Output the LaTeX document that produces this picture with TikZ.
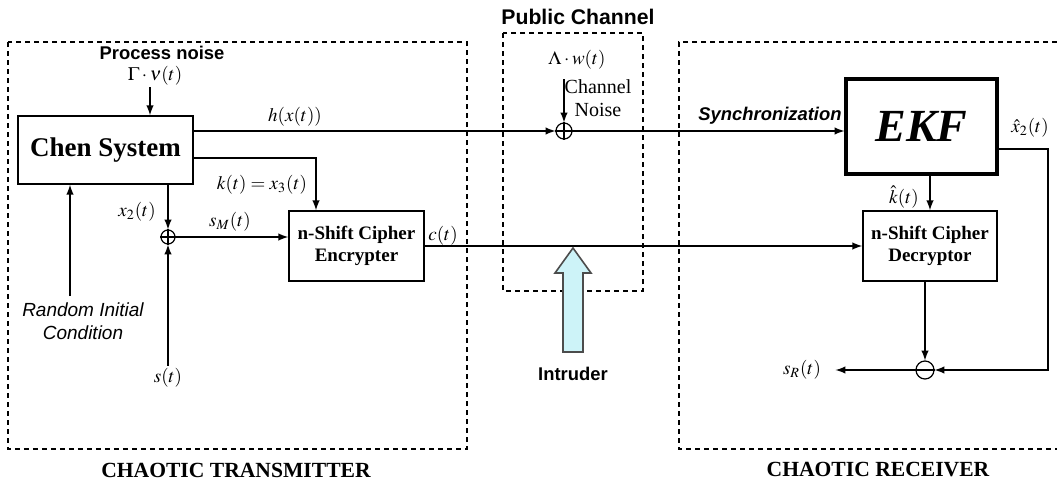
\documentclass[tikz,border=0pt]{standalone}
\usepackage{mathptmx}
\usepackage{fontspec}
\setmainfont{Liberation Serif}
\setsansfont{Liberation Sans}
\usepackage{tikz}
\usetikzlibrary{arrows}

\definecolor{intrfill}{RGB}{205,243,248}
\tikzset{
  blk/.style={draw, line width=0.8pt, inner sep=0pt, align=center,
    font=\fontsize{9.5}{11}\selectfont\bfseries},
  sumnode/.style={draw, circle, line width=0.6pt, minimum size=7pt, inner sep=0pt},
  lbl/.style={font=\fontsize{9.5}{11}\selectfont, inner sep=1pt},
  sflbl/.style={font=\fontsize{9.2}{10.5}\selectfont\sffamily\bfseries},
  zone/.style={dash pattern=on 2.5pt off 2pt, line width=0.8pt},
  ttl/.style={font=\fontsize{10.8}{12}\selectfont\bfseries}
}

\begin{document}
\begin{tikzpicture}[x=0.5pt,y=-0.5pt,>=latex,line width=0.7pt]
  \useasboundingbox (0,0) rectangle (1057,488);
  % dashed zones
  \draw[zone] (8,42) rectangle (467,449);
  \draw[zone] (503,33) rectangle (643,291);
  \draw[zone] (1057,42) -- (679,42) -- (679,449) -- (1057,449);
  \node[ttl] (txtitle) at (236,470) {CHAOTIC TRANSMITTER};
  \node[ttl] (rxtitle) at (878,470) {CHAOTIC RECEIVER};
  \node[sflbl,font=\fontsize{10.6}{12}\selectfont\sffamily\bfseries] (pubtitle) at (578,17) {Public Channel};

  % blocks
  \node[blk,minimum width=87.5pt,minimum height=34pt,font=\fontsize{13.5}{15}\selectfont\bfseries] (chen) at (105.5,150) {Chen System};
  \node[blk,minimum width=67.5pt,minimum height=35pt] (enc) at (356.5,246) {n-Shift Cipher\\Encrypter};
  \node[blk,line width=1.6pt,minimum width=75.5pt,minimum height=47.5pt,font=\fontsize{23}{26}\selectfont\bfseries\itshape] (ekf) at (921.5,126.5) {EKF};
  \node[blk,minimum width=67pt,minimum height=35pt] (dec) at (930,246) {n-Shift Cipher\\Decryptor};

  % summing points
  \node[sumnode] (sumtx) at (168,237) {};
  \draw[line width=0.6pt] (sumtx.north) -- (sumtx.south) (sumtx.west) -- (sumtx.east);
  \node[sumnode,minimum size=8pt] (sumch) at (564,131) {};
  \draw[line width=0.6pt] (sumch.north) -- (sumch.south) (sumch.west) -- (sumch.east);
  \node[sumnode,minimum size=9pt] (subrx) at (925,370) {};
  \draw[line width=0.6pt] (subrx.west) -- (subrx.east);

  % labels
  \node[sflbl] (pnoise) at (162,53) {Process noise};
  \node[lbl] (gam) at (155,76) {$\Gamma\cdot\nu(t)$};
  \node[lbl] (hx) at (295,117) {$h(x(t))$};
  \node[lbl] (kx) at (262,185) {$k(t)=x_3(t)$};
  \node[lbl] (xtwo) at (137,212) {$x_2(t)$};
  \node[lbl] (sm) at (230,222) {$s_M(t)$};
  \node[lbl] (st) at (168,378) {$s(t)$};
  \node[font=\fontsize{9.5}{11.5}\selectfont\sffamily\itshape,align=center] (ric) at (83,321) {Random Initial\\Condition};
  \node[lbl] (ct) at (443,236) {$c(t)$};
  \node[lbl] (lam) at (577,60) {$\Lambda\cdot w(t)$};
  \node[lbl,align=center,font=\fontsize{10}{11.5}\selectfont] (cnoise) at (598,98) {Channel\\Noise};
  \node[sflbl,font=\fontsize{9.2}{10.5}\selectfont\sffamily\bfseries\itshape] (sync) at (770,116) {Synchronization};
  \node[lbl] (kh) at (904,197) {$\hat{k}(t)$};
  \node[lbl] (xh) at (1030,128) {$\hat{x}_2(t)$};
  \node[lbl] (sr) at (802,370) {$s_R(t)$};
  \node[sflbl] (intr) at (573,374) {Intruder};

  % connectors
  \coordinate (pin) at (150,87);
  \draw[->] (pin) -- (pin |- chen.north);
  \draw[->] (sumch -| chen.east) -- (sumch.west);
  \draw[->] (sumch.east) -- (sumch -| ekf.west);
  \coordinate (kb) at (316,158);
  \draw[->] (kb -| chen.east) -- (kb) -- (kb |- enc.north);
  \draw[->] (sumtx |- chen.south) -- (sumtx.north);
  \draw[->] (st.north) -- (sumtx.south);
  \draw[->] (sumtx.east) -- (sumtx -| enc.west);
  \coordinate (ri) at (70,296);
  \draw[->] (ri) -- (ri |- chen.south);
  \draw[->] (enc.east) -- (enc.east -| dec.west);
  \coordinate (ln) at (564,79);
  \draw[->] (ln) -- (sumch.north);
  \draw[->] (dec.north |- ekf.south) -- (dec.north);
  \coordinate (xr) at (1048,149);
  \draw[->] (xr -| ekf.east) -- (xr) -- (xr |- subrx) -- (subrx.east);
  \draw[->] (subrx |- dec.south) -- (subrx.north);
  \draw[->,shorten >=6pt] (subrx.west) -- (sr.east);

  % intruder arrow
  \draw[fill=intrfill,draw=black!70,line width=0.8pt] (563,352) -- (563,273) -- (555,273) -- (573,248)
    -- (591,273) -- (583,273) -- (583,352) -- cycle;
\end{tikzpicture}
\end{document}
